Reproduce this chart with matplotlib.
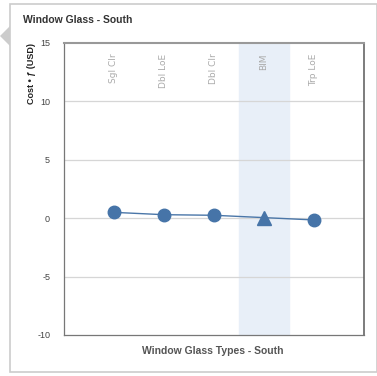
import matplotlib
matplotlib.use("Agg")
import matplotlib.pyplot as plt
from matplotlib.patches import Rectangle, Polygon

categories = ["Sgl Clr", "Dbl LoE", "Dbl Clr", "BIM", "Trp LoE"]
values = [0.5, 0.3, 0.25, 0.05, -0.15]
markers = ["o", "o", "o", "^", "o"]
highlight = "BIM"
yticks = [-10, -5, 0, 5, 10, 15]

plt.rcParams['font.family'] = ['Liberation Sans', 'DejaVu Sans']

W, H = 377, 376
fig = plt.figure(figsize=(W/100, H/100), dpi=100)
fig.patch.set_facecolor("white")

# card border
card = Rectangle((10/W, 4/H), (W-10)/W, (H-8)/H, transform=fig.transFigure,
                 facecolor="white", edgecolor="#cccccc", lw=1.2, zorder=0)
fig.patches.append(card)
tri = Polygon([(0, 1-36/H), (10/W, 1-26/H), (10/W, 1-46/H)], closed=True,
              transform=fig.transFigure, facecolor="#cccccc", edgecolor="none", zorder=0)
fig.patches.append(tri)

ax = fig.add_axes([64/W, 1-335/H, 300/W, 292/H])
ax.set_zorder(5)
x = list(range(len(categories)))
hi = categories.index(highlight)
ax.axvspan(hi-0.5, hi+0.5, color="#e8eff8", zorder=0)
ax.plot(x, values, color="#4a76a8", lw=1, zorder=2)
for xi, v, m in zip(x, values, markers):
    ax.plot(xi, v, marker=m, ms=9 if m == "o" else 10, color="#4674a8", zorder=3, ls="none")
ax.set_xlim(-1, 5)
ax.set_ylim(-10, 15)
ax.set_yticks(yticks)
ax.set_yticklabels([str(t) for t in yticks], fontsize=6.5, color="#444444")
ax.set_xticks([])
ax.tick_params(axis="y", length=0, pad=10)
for t in yticks[1:-1]:
    ax.axhline(t, color="#d6d6d6", lw=0.9, zorder=1)
for s in ["left", "bottom"]:
    ax.spines[s].set_color("#777777")
    ax.spines[s].set_linewidth(0.9)
ax.spines["top"].set_color("#999999")
ax.spines["top"].set_linewidth(1.5)
ax.spines["right"].set_color("#666666")
ax.spines["right"].set_linewidth(1.2)

for xi, c in zip(x, categories):
    ax.text(xi, 14.1, c, rotation=90, ha="center", va="top", fontsize=6.5,
            color="#aaaaaa", family=['DejaVu Sans'])

fig.text(23/W, 1-20/H, "Window Glass - South", fontsize=7.5, fontweight="bold",
         color="#333333", va="center", ha="left")
fig.text(31/W, 1-74/H, "Cost • ƒ (USD)", rotation=90, fontsize=6.5, fontweight="bold",
         color="#222222", va="center", ha="center")
fig.text(213/W, 1-351/H, "Window Glass Types - South", fontsize=7.5, fontweight="bold",
         color="#555555", va="center", ha="center")

fig.savefig("out.png", dpi=100)
